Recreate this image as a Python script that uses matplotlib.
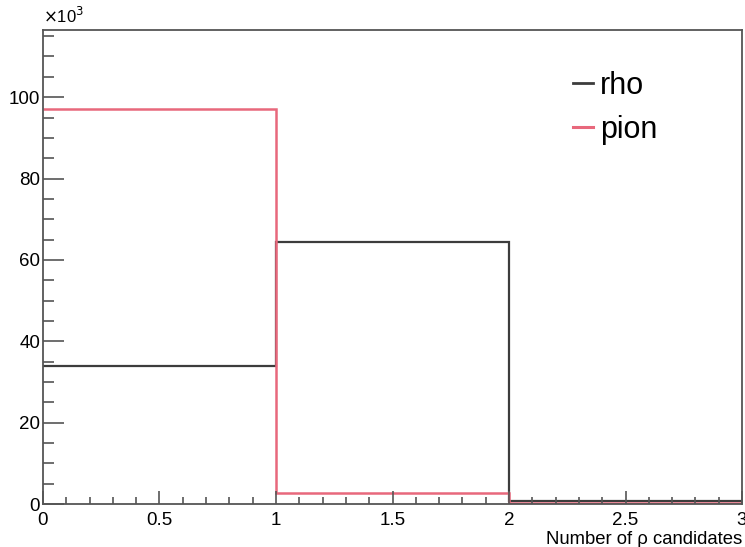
import numpy as np
import matplotlib
matplotlib.use("Agg")
import matplotlib.pyplot as plt
from matplotlib.ticker import MultipleLocator

plt.rcParams['font.family'] = ['Liberation Sans', 'DejaVu Sans']

# histogram contents (counts per bin)
edges = [0, 1, 2, 3]
rho = [34000, 64500, 800]
pion = [97200, 2600, 150]

frame_col = '#555555'
rho_col = '#3c3c3c'
pion_col = '#e8687c'

fig = plt.figure(figsize=(7.45, 5.47), dpi=100)
ax = fig.add_axes([0.0577, 0.0786, 0.9383, 0.8665])

ax.stairs(np.array(rho) / 1000, edges, color=rho_col, lw=1.6, baseline=None)
ax.stairs(np.array(pion) / 1000, edges, color=pion_col, lw=1.8, baseline=None)

ax.set_xlim(0, 3)
ax.set_ylim(0, 116.5)

ax.xaxis.set_major_locator(MultipleLocator(0.5))
ax.xaxis.set_minor_locator(MultipleLocator(0.1))
ax.yaxis.set_major_locator(MultipleLocator(20))
ax.yaxis.set_minor_locator(MultipleLocator(5))
ax.set_xticks([0, 0.5, 1, 1.5, 2, 2.5, 3])
ax.set_xticklabels(['0', '0.5', '1', '1.5', '2', '2.5', '3'])

ax.tick_params(axis='x', which='major', direction='in', length=9.5, width=1.2,
               color=frame_col, labelsize=13.5, pad=6, top=False)
ax.tick_params(axis='x', which='minor', direction='in', length=5, width=1.2,
               color=frame_col, top=False)
ax.tick_params(axis='y', which='major', direction='in', length=15, width=1.2,
               color=frame_col, labelsize=13.5, pad=2, right=False)
ax.tick_params(axis='y', which='minor', direction='in', length=8, width=1.2,
               color=frame_col, right=False)

for s in ax.spines.values():
    s.set_color(frame_col)
    s.set_linewidth(1.3)

ax.text(0, 1.008, r'$\times$10$^{3}$', transform=ax.transAxes, fontsize=12,
        ha='left', va='bottom')

ax.text(1.0, -0.056, 'Number of ρ candidates', transform=ax.transAxes,
        fontsize=13.3, ha='right', va='top')

# ROOT style legend without box
ax.legend(handles=[plt.Line2D([], [], color=rho_col, lw=2),
                   plt.Line2D([], [], color=pion_col, lw=2.2)],
          labels=['rho', 'pion'], loc='upper left',
          bbox_to_anchor=(0.719, 0.972), frameon=False, fontsize=22,
          handlelength=0.65, handletextpad=0.23, labelspacing=0.47)

fig.savefig('out.png', dpi=100)
